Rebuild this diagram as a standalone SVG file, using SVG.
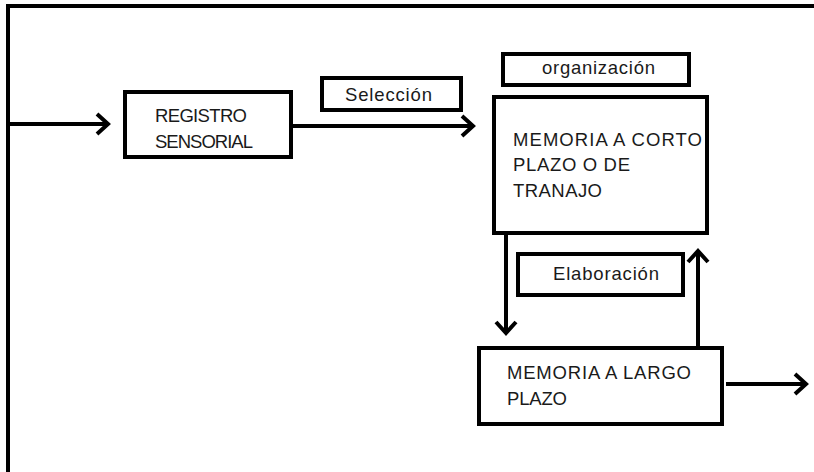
<svg xmlns="http://www.w3.org/2000/svg" width="814" height="472" viewBox="0 0 814 472">
<style>
.box{fill:#fff;stroke:#000;stroke-width:4}
.ln{fill:none;stroke:#000;stroke-width:4}
.t{font-family:"Liberation Sans",Arial,sans-serif;font-size:18.5px;fill:#1a1a1a}
</style>
<defs>
<marker id="ah" markerUnits="userSpaceOnUse" viewBox="-16 -14 20 28" refX="0" refY="0" markerWidth="20" markerHeight="28" orient="auto">
<path d="M-11,-10 L0,0 L-11,10" fill="none" stroke="#000" stroke-width="4" stroke-linejoin="miter"/>
</marker>
</defs>
<rect width="814" height="472" fill="#fff"/>
<g id="frame">
<path class="ln" d="M8,472 V6 H814"/>
</g>
<g id="connectors">
<line class="ln" x1="8" y1="124" x2="108" y2="124" marker-end="url(#ah)"/>
<line class="ln" x1="293" y1="126" x2="473" y2="126" marker-end="url(#ah)"/>
<line class="ln" x1="506" y1="233" x2="506" y2="333" marker-end="url(#ah)"/>
<line class="ln" x1="698" y1="347" x2="698" y2="251" marker-end="url(#ah)"/>
<line class="ln" x1="726" y1="384" x2="806" y2="384" marker-end="url(#ah)"/>
</g>
<g id="registro">
<rect class="box" x="125" y="92" width="166" height="65"/>
<text class="t" x="155" y="122" textLength="92">REGISTRO</text>
<text class="t" x="155" y="148" textLength="98">SENSORIAL</text>
</g>
<g id="seleccion">
<rect class="box" x="322" y="78" width="139" height="32"/>
<text class="t" x="345" y="101" textLength="87">Selección</text>
</g>
<g id="organizacion">
<rect class="box" x="503" y="54" width="186" height="31"/>
<text class="t" x="542" y="74" textLength="113">organización</text>
</g>
<g id="corto">
<rect class="box" x="494" y="97" width="213" height="136"/>
<text class="t" x="513" y="146" textLength="189">MEMORIA A CORTO</text>
<text class="t" x="513" y="171" textLength="117">PLAZO O DE</text>
<text class="t" x="513" y="197" textLength="89">TRANAJO</text>
</g>
<g id="elaboracion">
<rect class="box" x="518" y="254" width="165" height="41"/>
<text class="t" x="553" y="280" textLength="106">Elaboración</text>
</g>
<g id="largo">
<rect class="box" x="479" y="348" width="243" height="76"/>
<text class="t" x="507" y="379" textLength="184">MEMORIA A LARGO</text>
<text class="t" x="507" y="405" textLength="60">PLAZO</text>
</g>
</svg>
